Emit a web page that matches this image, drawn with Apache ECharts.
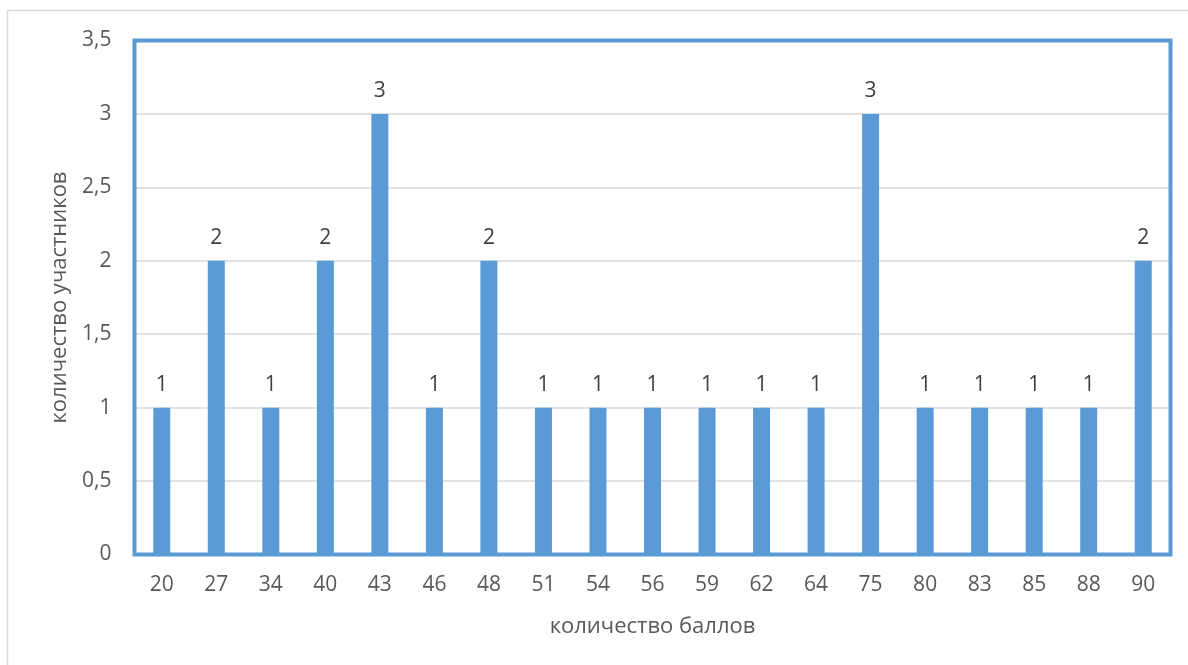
<!DOCTYPE html>
<html><head><meta charset="utf-8">
<style>html,body{margin:0;padding:0;background:#fff}#c{width:1188px;height:665px}</style>
<script src="https://cdn.jsdelivr.net/npm/echarts@6/dist/echarts.min.js"></script>
</head><body><div id="c"></div>
<script>
var categories = ['20','27','34','40','43','46','48','51','54','56','59','62','64','75','80','83','85','88','90'];
var values = [1,2,1,2,3,1,2,1,1,1,1,1,1,3,1,1,1,1,2];
var yTicks = [0,0.5,1,1.5,2,2.5,3,3.5];

var chart = echarts.init(document.getElementById('c'));
var font = '"Open Sans", sans-serif';
chart.setOption({
  animation:false,
  graphic:[{type:'rect',shape:{x:7.5,y:10.5,width:1250,height:700},style:{fill:'none',stroke:'#d9d9d9',lineWidth:1.5},z:-10}],
  grid:{left:134.5,top:40.5,right:17.5,bottom:110.5,show:true,borderColor:'#5B9BD5',borderWidth:4,containLabel:false,z:5},
  xAxis:{type:'category',data:categories,
    name:'количество баллов',nameLocation:'middle',nameGap:61,
    nameTextStyle:{fontFamily:font,fontSize:22,color:'#595959'},
    axisLine:{show:false},axisTick:{show:false},
    axisLabel:{fontFamily:font,fontSize:21,color:'#595959',margin:20}},
  yAxis:{type:'value',min:yTicks[0],max:yTicks[yTicks.length-1],interval:yTicks[1]-yTicks[0],
    name:'количество участников',nameLocation:'middle',nameGap:58,
    nameTextStyle:{fontFamily:font,fontSize:22,color:'#595959'},
    axisLine:{show:false},axisTick:{show:false},
    splitLine:{showMinLine:false,showMaxLine:false,lineStyle:{color:'#d9d9d9',width:1.5}},
    axisLabel:{fontFamily:font,fontSize:21,color:'#595959',margin:23,
      formatter:function(v){return String(v).replace('.',',');}}},
  series:[{type:'bar',data:values,barWidth:17,
    itemStyle:{color:'#5B9BD5'},
    label:{show:true,position:'top',distance:12,fontFamily:font,fontSize:21,color:'#404040'}}]
});
</script></body></html>
